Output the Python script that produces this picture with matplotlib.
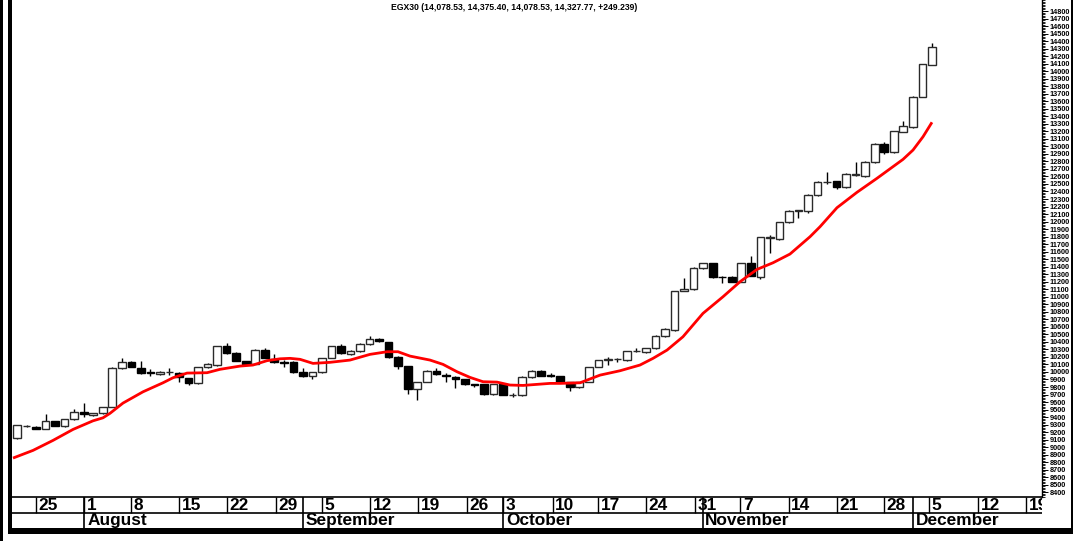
import matplotlib
matplotlib.use('Agg')
import matplotlib.pyplot as plt
from matplotlib.patches import Rectangle
from matplotlib.ticker import MultipleLocator, FixedLocator

plt.rcParams['font.family'] = ['Liberation Sans', 'DejaVu Sans']

# ---------------- data ----------------
title = "EGX30 (14,078.53, 14,375.40, 14,078.53, 14,327.77, +249.239)"

opens = [9121, 9275, 9267, 9240, 9347, 9280, 9373, 9466, 9426, 9453,
         9533, 10052, 10131, 10052, 9990, 9972, 9995, 9985, 9919, 9852,
         10065, 10091, 10344, 10251, 10145, 10105, 10291, 10171, 10130, 10131,
         9998, 9945, 9998, 10185, 10344, 10238, 10278, 10371, 10437, 10397,
         10198, 10078, 9772, 9865, 10012, 9950, 9932, 9905, 9830, 9839,
         9706, 9839, 9690, 9693, 9932, 10012, 9950, 9945, 9865, 9799,
         9865, 10065, 10165, 10168, 10158, 10275, 10265, 10318, 10477, 10557,
         11076, 11103, 11382, 11448, 11265, 11262, 11195, 11448, 11262, 11785,
         11768, 11993, 12140, 12140, 12352, 12520, 12539, 12459, 12625, 12605,
         12791, 13031, 12924, 13190, 13257, 13656, 14078.53]
highs = [9300, 9300, 9280, 9440, 9352, 9380, 9506, 9586, 9460, 9540,
         10060, 10185, 10140, 10145, 10040, 10010, 10050, 9995, 9925, 10070,
         10115, 10350, 10384, 10260, 10150, 10300, 10318, 10238, 10160, 10140,
         10052, 10005, 10190, 10350, 10371, 10290, 10380, 10477, 10450, 10400,
         10210, 10085, 9870, 10020, 10052, 9985, 9940, 9910, 9845, 9845,
         9845, 9845, 9720, 9940, 10020, 10020, 9985, 9950, 9870, 9870,
         10070, 10165, 10198, 10185, 10285, 10318, 10325, 10485, 10580, 11080,
         11249, 11390, 11455, 11455, 11270, 11270, 11455, 11541, 11800, 11820,
         12000, 12150, 12155, 12360, 12535, 12658, 12545, 12645, 12791, 12800,
         13040, 13058, 13210, 13337, 13665, 14100, 14375.40]
lows = [9115, 9268, 9235, 9235, 9275, 9270, 9365, 9400, 9420, 9445,
        9528, 10045, 10060, 9975, 9945, 9965, 9960, 9865, 9830, 9845,
        10055, 10085, 10245, 10140, 10095, 10100, 10180, 10125, 10065, 9990,
        9932, 9905, 9990, 10180, 10245, 10230, 10270, 10365, 10405, 10190,
        10038, 9706, 9626, 9860, 9965, 9865, 9786, 9830, 9800, 9700,
        9700, 9690, 9670, 9685, 9925, 9940, 9930, 9860, 9746, 9786,
        9860, 10060, 10092, 10130, 10150, 10260, 10255, 10305, 10470, 10550,
        11070, 11089, 11375, 11255, 11182, 11190, 11190, 11270, 11235, 11580,
        11760, 11985, 12045, 12113, 12345, 12505, 12432, 12450, 12605, 12598,
        12785, 12898, 12915, 13185, 13250, 13650, 14078.53]
closes = [9293, 9285, 9240, 9347, 9280, 9373, 9466, 9440, 9453, 9533,
          10052, 10131, 10065, 9985, 9985, 9999, 10000, 9932, 9852, 10065,
          10105, 10344, 10251, 10145, 10105, 10291, 10185, 10131, 10125, 9998,
          9945, 9998, 10185, 10344, 10251, 10278, 10371, 10437, 10411, 10198,
          10078, 9772, 9865, 10012, 9972, 9945, 9905, 9839, 9826, 9706,
          9839, 9693, 9695, 9932, 10012, 9945, 9945, 9865, 9799, 9865,
          10065, 10158, 10170, 10172, 10278, 10280, 10318, 10477, 10570, 11076,
          11103, 11382, 11448, 11262, 11260, 11195, 11448, 11275, 11794, 11790,
          11993, 12140, 12150, 12352, 12525, 12525, 12459, 12632, 12632, 12791,
          13031, 12924, 13204, 13270, 13656, 14095, 14327.77]

# moving average (trading-day position, value)
ma_pos = [-0.42, 1.68, 3.78, 5.88, 7.97, 9.02, 9.76, 11.12, 13.22, 15.32,
          16.37, 17.84, 19.94, 21.30, 23.40, 24.76, 26.23, 27.60, 28.65, 29.70,
          31.06, 32.84, 34.94, 37.04, 38.83, 39.98, 41.24, 43.34, 44.70, 46.17,
          47.53, 48.90, 50.37, 51.73, 53.10, 54.56, 55.93, 56.98, 59.08, 61.18,
          63.27, 65.37, 66.74, 68.21, 69.88, 71.98, 74.08, 75.87, 77.65, 79.33,
          81.11, 83.21, 84.26, 86.04, 88.14, 90.24, 92.97, 94.02, 95.07, 96.01]
ma_values = [8855, 8957, 9090, 9236, 9350, 9390, 9450, 9586, 9736, 9856,
             9923, 9985, 9990, 10035, 10078, 10092, 10150, 10175, 10181, 10168,
             10114, 10128, 10158, 10234, 10269, 10269, 10211, 10158, 10101, 10003,
             9928, 9870, 9865, 9826, 9821, 9835, 9848, 9848, 9856, 9958,
             10016, 10092, 10181, 10291, 10468, 10779, 11000, 11200, 11364, 11452,
             11568, 11798, 11931, 12184, 12389, 12575, 12827, 12951, 13128, 13320]

day_labels = ['25', '1', '8', '15', '22', '29', '5', '12', '19', '26', '3',
              '10', '17', '24', '31', '7', '14', '21', '28', '5', '12', '19']
month_labels = ['August', 'September', 'October', 'November', 'December']
y_ticks = list(range(8400, 14801, 100))

# ---------------- layout ----------------
W, H = 1074, 541
fig = plt.figure(figsize=(W / 100, H / 100), dpi=100)
fig.patch.set_facecolor('white')

def fx(px):
    return px / W

def fy(py):
    return 1 - py / H

X0, STEP = 17.0, 9.53

def to_idx(px):
    return (px - X0) / STEP

def py_to_val(py):
    return 14800 - (py - 11) / 0.0752

day_px = [36, 84.4, 131, 179, 227, 275.5, 322, 370, 418, 466.6, 503,
          552.5, 598, 646, 695, 740, 788.5, 837, 884, 929, 977.6, 1026]
month_px = [84.4, 303, 503, 702.5, 912.7]

PL, PR, PT, PB = 12, 1042, 0, 497
xlim = (to_idx(PL), to_idx(PR))

ax = fig.add_axes([fx(PL), fy(PB), fx(PR) - fx(PL), fy(PT) - fy(PB)])
ax.set_xlim(*xlim)
ax.set_ylim(py_to_val(PB), py_to_val(PT))

# candles
bw = 0.80
for i, (o, h, l, c) in enumerate(zip(opens, highs, lows, closes)):
    ax.vlines(i, l, h, color='black', lw=1.0, zorder=2)
    lo, hi = min(o, c), max(o, c)
    ht = max(hi - lo, 8)
    if c >= o:
        fc, ec = 'white', '#2a2a2a'
    else:
        fc, ec = 'black', 'black'
    ax.add_patch(Rectangle((i - bw / 2, lo), bw, ht, facecolor=fc,
                           edgecolor=ec, lw=1.0, zorder=3))

ax.plot(ma_pos, ma_values, color='#ff0000', lw=2.0, zorder=4,
        solid_capstyle='butt')

ax.set_xticks([])
ax.yaxis.tick_right()
ax.yaxis.set_major_locator(FixedLocator(y_ticks))
ax.set_yticklabels([str(v) for v in y_ticks])
ax.yaxis.set_minor_locator(MultipleLocator(20))
ax.tick_params(axis='y', which='major', direction='out', length=4, width=0.7,
               pad=1.5, labelsize=5.3, colors='black')
ax.tick_params(axis='y', which='minor', direction='out', length=2, width=0.6)
for lab in ax.get_yticklabels():
    lab.set_fontweight('bold')
ax.spines['top'].set_visible(False)
ax.spines['left'].set_visible(False)
ax.spines['right'].set_linewidth(1.0)
ax.spines['bottom'].set_linewidth(1.2)

# date axis rows
ax2 = fig.add_axes([fx(PL), fy(528), fx(PR) - fx(PL), fy(PB) - fy(528)])
ax2.set_xlim(*xlim)
ax2.set_ylim(0, 31)
ax2.axis('off')
ax2.hlines(15.5, xlim[0], xlim[1], color='black', lw=1.2)
for px, lab in zip(day_px, day_labels):
    x = to_idx(px)
    ax2.vlines(x, 15.5, 31, color='black', lw=1.0)
    ax2.text(x + 0.3, 18.3, lab, ha='left', va='baseline', fontsize=12.4,
             fontweight='bold', clip_on=True)
for px, lab in zip(month_px, month_labels):
    x = to_idx(px)
    ax2.vlines(x, 0, 31, color='black', lw=1.2)
    ax2.text(x + 0.3, 3.0, lab, ha='left', va='baseline', fontsize=12.4,
             fontweight='bold', clip_on=True)

# title
fig.text(fx(514), fy(7), title, ha='center', va='center', fontsize=6.2,
         fontweight='bold')

# outer frame bars
def frect(x0, y0, x1, y1):
    fig.patches.append(Rectangle((fx(x0), fy(y1)), fx(x1) - fx(x0),
                                 fy(y0) - fy(y1), transform=fig.transFigure,
                                 facecolor='black', edgecolor='none',
                                 zorder=10))

frect(0, 0, 3, 541)
frect(8, 0, 12, 533)
frect(8, 528, 1073, 534)
frect(1071, 0, 1073, 534)

fig.savefig('out.png', dpi=100, facecolor='white')
